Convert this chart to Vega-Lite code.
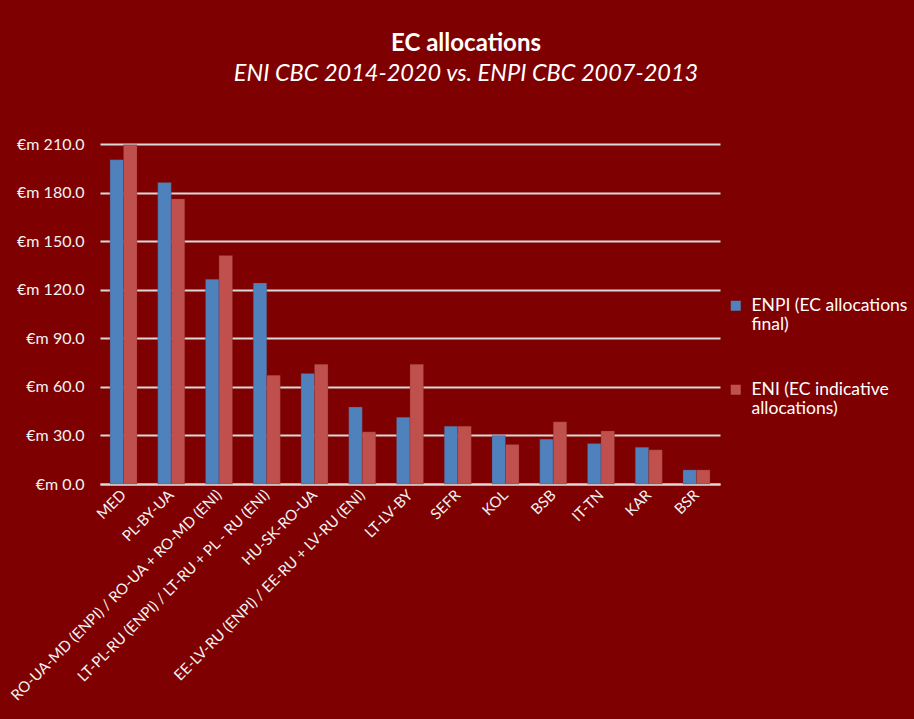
{
  "$schema": "https://vega.github.io/schema/vega-lite/v6.json",
  "width": 620,
  "height": 340,
  "autosize": {"type": "none"},
  "padding": {"left": 100, "top": 144, "right": 194, "bottom": 235},
  "background": "#7f0000",
  "title": {
    "text": "EC allocations",
    "subtitle": "ENI CBC 2014-2020 vs. ENPI CBC 2007-2013",
    "anchor": "middle",
    "dx": 56,
    "offset": 51,
    "font": "Lato",
    "fontSize": 24,
    "fontWeight": "bold",
    "color": "#ffffff",
    "subtitleFont": "Lato",
    "subtitleFontSize": 23.5,
    "subtitleFontStyle": "italic",
    "subtitleColor": "#ffffff",
    "subtitlePadding": 6
  },
  "data": {
    "values": [
      {"region": "MED", "series": "ENPI (EC allocations final)", "value": 200.3},
      {"region": "MED", "series": "ENI (EC indicative allocations)", "value": 209.5},
      {"region": "PL-BY-UA", "series": "ENPI (EC allocations final)", "value": 186.2},
      {"region": "PL-BY-UA", "series": "ENI (EC indicative allocations)", "value": 176.1},
      {"region": "RO-UA-MD (ENPI) / RO-UA + RO-MD (ENI)", "series": "ENPI (EC allocations final)", "value": 126.4},
      {"region": "RO-UA-MD (ENPI) / RO-UA + RO-MD (ENI)", "series": "ENI (EC indicative allocations)", "value": 141.2},
      {"region": "LT-PL-RU (ENPI) / LT-RU + PL - RU (ENI)", "series": "ENPI (EC allocations final)", "value": 124.1},
      {"region": "LT-PL-RU (ENPI) / LT-RU + PL - RU (ENI)", "series": "ENI (EC indicative allocations)", "value": 67.1},
      {"region": "HU-SK-RO-UA", "series": "ENPI (EC allocations final)", "value": 68.3},
      {"region": "HU-SK-RO-UA", "series": "ENI (EC indicative allocations)", "value": 73.9},
      {"region": "EE-LV-RU (ENPI) / EE-RU + LV-RU (ENI)", "series": "ENPI (EC allocations final)", "value": 47.5},
      {"region": "EE-LV-RU (ENPI) / EE-RU + LV-RU (ENI)", "series": "ENI (EC indicative allocations)", "value": 32.2},
      {"region": "LT-LV-BY", "series": "ENPI (EC allocations final)", "value": 41.3},
      {"region": "LT-LV-BY", "series": "ENI (EC indicative allocations)", "value": 73.9},
      {"region": "SEFR", "series": "ENPI (EC allocations final)", "value": 35.7},
      {"region": "SEFR", "series": "ENI (EC indicative allocations)", "value": 35.7},
      {"region": "KOL", "series": "ENPI (EC allocations final)", "value": 29.9},
      {"region": "KOL", "series": "ENI (EC indicative allocations)", "value": 24.4},
      {"region": "BSB", "series": "ENPI (EC allocations final)", "value": 27.7},
      {"region": "BSB", "series": "ENI (EC indicative allocations)", "value": 38.4},
      {"region": "IT-TN", "series": "ENPI (EC allocations final)", "value": 25.0},
      {"region": "IT-TN", "series": "ENI (EC indicative allocations)", "value": 32.8},
      {"region": "KAR", "series": "ENPI (EC allocations final)", "value": 22.7},
      {"region": "KAR", "series": "ENI (EC indicative allocations)", "value": 21.1},
      {"region": "BSR", "series": "ENPI (EC allocations final)", "value": 8.7},
      {"region": "BSR", "series": "ENI (EC indicative allocations)", "value": 8.7}
    ]
  },
  "mark": {"type": "bar", "stroke": "#7a2a2a", "strokeWidth": 0.5, "strokeOpacity": 0.6},
  "encoding": {
    "x": {
      "field": "region",
      "type": "nominal",
      "sort": null,
      "title": null,
      "scale": {"paddingInner": 0.435, "paddingOuter": 0.21},
      "axis": {
        "labelAngle": -45,
        "labelAlign": "right",
        "labelBaseline": "middle",
        "labelPadding": 8,
        "labelFont": "Lato",
        "labelFontSize": 15,
        "labelColor": "#f2f2f2",
        "labelLimit": 400,
        "ticks": false,
        "domainColor": "#d9d9d9",
        "domainWidth": 2
      }
    },
    "xOffset": {
      "field": "series",
      "type": "nominal",
      "sort": ["ENPI (EC allocations final)", "ENI (EC indicative allocations)"]
    },
    "y": {
      "field": "value",
      "type": "quantitative",
      "title": null,
      "scale": {"domain": [0, 210]},
      "axis": {
        "values": [0, 30, 60, 90, 120, 150, 180, 210],
        "labelExpr": "'€m ' + format(datum.value, '.1f')",
        "labelFont": "Lato",
        "labelFontSize": 16,
        "labelColor": "#f2f2f2",
        "labelPadding": 16,
        "ticks": false,
        "domain": false,
        "grid": true,
        "gridColor": "#d9d9d9",
        "gridWidth": 2
      }
    },
    "color": {
      "field": "series",
      "type": "nominal",
      "scale": {
        "domain": ["ENPI (EC allocations final)", "ENI (EC indicative allocations)"],
        "range": ["#4f81bd", "#c0504d"]
      },
      "legend": {
        "title": null,
        "orient": "none",
        "legendX": 627,
        "legendY": 153,
        "symbolType": "square",
        "symbolSize": 100,
        "symbolStrokeWidth": 0,
        "labelFont": "Lato",
        "labelFontSize": 17.5,
        "labelColor": "#ffffff",
        "labelLimit": 300,
        "labelOffset": 7,
        "labelBaseline": "middle",
        "rowPadding": 46,
        "labelExpr": "datum.label == 'ENPI (EC allocations final)' ? ['ENPI (EC allocations', 'final)'] : ['ENI (EC indicative', 'allocations)']"
      }
    }
  },
  "config": {"view": {"stroke": null}}
}
